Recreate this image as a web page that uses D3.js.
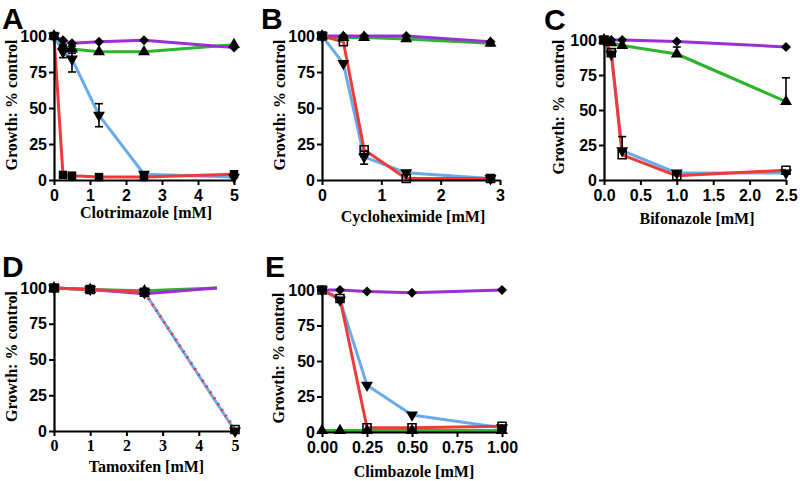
<!DOCTYPE html>
<html><head><meta charset="utf-8">
<script src="https://cdn.jsdelivr.net/npm/d3@7"></script>
<style>body{margin:0;background:#fff}</style>
</head><body><svg id="c" width="800" height="481"></svg>
<script>
// ---------------- DATA ----------------
const yTicks = [0, 25, 50, 75, 100];

// Panel A: Clotrimazole
const xA = [0, 0.25, 0.5, 1.25, 2.5, 5];
const A_purple = [100, 97, 95, 96, 97, 92];
const A_green  = [100, 93, 91, 89, 89, 94];
const A_blue   = [100, 89, 84, 45, 4, 2];
const A_red    = [100, 3.5, 3, 2, 2, 4];
const A_ticks  = [0, 1, 2, 3, 4, 5];
const A_err = [ {s: "blue", i: 1, lo: 85, hi: 94}, {s: "blue", i: 2, lo: 75, hi: 93}, {s: "blue", i: 3, lo: 37, hi: 53}, {s: "green", i: 2, lo: 88, hi: 95} ];

// Panel B: Cycloheximide
const xB = [0, 0.36, 0.71, 1.42, 2.84];
const B_purple = [100, 100, 100, 100, 96];
const B_green  = [100, 99, 99, 98, 95];
const B_blue   = [100, 81, 16, 5, 1];
const B_red    = [100, 96, 21, 1, 1];
const B_ticks  = [0, 1, 2, 3];
const B_err = [ {s: "blue", i: 2, lo: 11, hi: 20} ];

// Panel C: Bifonazole
const xC = [0, 0.1, 0.25, 1.0, 2.5];
const C_purple = [100, 100, 100, 99, 95];
const C_green  = [100, 98, 96, 90, 56];
const C_blue   = [100, 90, 21, 5, 5];
const C_red    = [100, 91, 18, 3, 7];
const C_ticks  = [0, 0.5, 1.0, 1.5, 2.0, 2.5];
const C_err = [ {s: "green", i: 3, lo: 90, hi: 95}, {s: "green", i: 4, lo: 56, hi: 73}, {s: "blue", i: 2, lo: 21, hi: 31} ];

// Panel D: Tamoxifen
const xD = [0, 1, 2.5, 5];
const xD_gp = [0, 1, 2.5, 4.5];
const D_purple = [100, 99, 96, 100];
const D_green  = [100, 99, 98, 100];
const D_blue   = [100, 99, 97, 0];
const D_red    = [100, 99, 97, 1];
const D_ticks  = [0, 1, 2, 3, 4, 5];
const D_err = [];

// Panel E: Climbazole
const xE = [0, 0.1, 0.25, 0.5, 1.0];
const E_purple = [100, 100, 99, 98, 100];
const E_green  = [1, 1, 1, 1, 1];
const E_blue   = [100, 93, 33, 12, 3];
const E_red    = [100, 94, 3, 3, 4];
const E_ticks  = [0, 0.25, 0.5, 0.75, 1.0];
const E_err = [];

// ---------------- STYLE / LAYOUT ----------------
const colors = {purple: "#9b2fd6", green: "#2bb52b", blue: "#6aaae8", red: "#ee3a3a"};
const sans = "Liberation Sans, Arial, sans-serif";
const serif = "Liberation Serif, Times New Roman, serif";

const panels = [
  {letter: "A", lx: 2, ly: 29, x0: 54, x1: 234, yb: 180, yt: 36, xmax: 5, ticks: A_ticks, fmt: d3.format("d"), tickFont: sans,
   title: "Clotrimazole [mM]", tby: 218, ytx: 12, ylab: "Growth: % control",
   series: [
     {c: "green", x: xA, y: A_green, m: "tri"}, {c: "purple", x: xA, y: A_purple, m: "dia"},
     {c: "blue", x: xA, y: A_blue, m: "tridown"}, {c: "red", x: xA, y: A_red, m: "sqfill"}], err: A_err},
  {letter: "B", lx: 261, ly: 29, x0: 322, x1: 500, yb: 180, yt: 36, xmax: 3, ticks: B_ticks, fmt: d3.format("d"), tickFont: sans,
   title: "Cycloheximide [mM]", tby: 222, ytx: 280, ylab: "Growth: % control",
   series: [
     {c: "green", x: xB, y: B_green, m: "tri"}, {c: "purple", x: xB, y: B_purple, m: "dia"},
     {c: "blue", x: xB, y: B_blue, m: "tridown"}, {c: "red", x: xB, y: B_red, m: "sq"}], err: B_err},
  {letter: "C", lx: 544, ly: 30, x0: 604, x1: 786, yb: 180, yt: 40, xmax: 2.5, ticks: C_ticks, fmt: d3.format(".1f"), tickFont: sans,
   title: "Bifonazole [mM]", tby: 224, ytx: 559, ylab: "Growth: %\u00a0 control",
   series: [
     {c: "green", x: xC, y: C_green, m: "tri"}, {c: "purple", x: xC, y: C_purple, m: "dia"},
     {c: "blue", x: xC, y: C_blue, m: "tridown"}, {c: "red", x: xC, y: C_red, m: "sq"}], err: C_err},
  {letter: "D", lx: 2, ly: 277, x0: 54, x1: 235, yb: 431, yt: 288, xmax: 5, ticks: D_ticks, fmt: d3.format("d"), tickFont: serif,
   title: "Tamoxifen [mM]", tby: 472, ytx: 12, ylab: "Growth: % control", dashRed: true,
   series: [
     {c: "green", x: xD_gp, y: D_green, m: "tri", hideLast: true}, {c: "purple", x: xD_gp, y: D_purple, m: "dia", hideLast: true},
     {c: "blue", x: xD, y: D_blue, m: "tridown"}, {c: "red", x: xD, y: D_red, m: "sq"}], err: D_err},
  {letter: "E", lx: 265, ly: 277, x0: 322, x1: 502, yb: 432, yt: 290, xmax: 1, ticks: E_ticks, fmt: d3.format(".2f"), tickFont: sans,
   title: "Climbazole [mM]", tby: 477, ytx: 279, ylab: "Growth: % control",
   series: [
     {c: "green", x: xE, y: E_green, m: "tri"}, {c: "purple", x: xE, y: E_purple, m: "dia"},
     {c: "blue", x: xE, y: E_blue, m: "tridown"}, {c: "red", x: xE, y: E_red, m: "sq"}], err: E_err}
];

const svg = d3.select("#c");

function marker(g, type, px, py) {
  if (type === "dia") {
    g.append("path").attr("d", d3.symbol(d3.symbolSquare, 50)()).attr("transform", `translate(${px},${py}) rotate(45)`).attr("fill", "#000");
  } else if (type === "tri") {
    g.append("path").attr("d", d3.symbol(d3.symbolTriangle, 62)()).attr("transform", `translate(${px},${py})`).attr("fill", "#000");
  } else if (type === "tridown") {
    g.append("path").attr("d", d3.symbol(d3.symbolTriangle, 62)()).attr("transform", `translate(${px},${py}) rotate(180)`).attr("fill", "#000");
  } else if (type === "sqfill") {
    g.append("path").attr("d", d3.symbol(d3.symbolSquare, 72)()).attr("transform", `translate(${px},${py})`).attr("fill", "#000");
  } else if (type === "sq") {
    g.append("path").attr("d", d3.symbol(d3.symbolSquare, 64)()).attr("transform", `translate(${px},${py})`)
      .attr("fill", "none").attr("stroke", "#000").attr("stroke-width", 1.6);
  }
}

panels.forEach(p => {
  const x = d3.scaleLinear().domain([0, p.xmax]).range([p.x0, p.x1]);
  const y = d3.scaleLinear().domain([0, 100]).range([p.yb, p.yt]);
  const g = svg.append("g");

  // panel letter
  g.append("text").attr("x", p.lx).attr("y", p.ly).text(p.letter)
    .attr("font-family", sans).attr("font-weight", "bold").attr("font-size", 30);

  // lines
  const line = d3.line().x(d => x(d[0])).y(d => y(d[1]));
  p.series.forEach(s => {
    const pts = s.x.map((v, i) => [v, s.y[i]]);
    if (p.dashRed && s.c === "red") {
      const k = pts.findIndex(d => d[0] >= 2.5);
      g.append("path").attr("d", line(pts.slice(0, k + 1))).attr("fill", "none")
        .attr("stroke", colors.red).attr("stroke-width", 3);
      g.append("path").attr("d", line(pts.slice(k))).attr("fill", "none")
        .attr("stroke", colors.red).attr("stroke-width", 3).attr("stroke-dasharray", "2 5");
    } else {
      g.append("path").attr("d", line(pts)).attr("fill", "none")
        .attr("stroke", colors[s.c]).attr("stroke-width", 3).attr("stroke-linejoin", "round");
    }
  });

  // axes
  const ya = d3.axisLeft(y).tickValues(yTicks).tickSize(5).tickSizeOuter(0).tickPadding(2).tickFormat(d3.format("d"));
  const yg = g.append("g").attr("transform", `translate(${p.x0},0)`).call(ya);
  const xa = d3.axisBottom(x).tickValues(p.ticks).tickSize(5).tickSizeOuter(0).tickPadding(p.tickFont === serif ? 4 : 5).tickFormat(p.fmt);
  const xg = g.append("g").attr("transform", `translate(0,${p.yb})`).call(xa);
  [yg, xg].forEach(a => {
    a.select(".domain").attr("stroke", "#000").attr("stroke-width", 2.2);
    a.selectAll(".tick line").attr("stroke", "#000").attr("stroke-width", 2);
  });
  yg.selectAll("text").attr("font-family", sans).attr("font-weight", "bold").attr("font-size", 16).attr("fill", "#000");
  xg.selectAll("text").attr("font-family", p.tickFont).attr("font-weight", "bold").attr("font-size", 16).attr("fill", "#000");

  // error bars
  p.err.forEach(e => {
    const s = p.series.find(q => q.c === e.s);
    const px = x(s.x[e.i]);
    g.append("line").attr("x1", px).attr("x2", px).attr("y1", y(e.lo)).attr("y2", y(e.hi)).attr("stroke", "#000").attr("stroke-width", 1.6);
    [e.lo, e.hi].forEach(v => {
      if (v !== s.y[e.i]) g.append("line").attr("x1", px - 4).attr("x2", px + 4).attr("y1", y(v)).attr("y2", y(v)).attr("stroke", "#000").attr("stroke-width", 1.6);
    });
  });

  // markers
  p.series.forEach(s => {
    s.x.forEach((v, i) => {
      if (s.hideLast && i === s.x.length - 1) return;
      marker(g, s.m, x(v), y(s.y[i]));
    });
  });

  // axis titles
  g.append("text").attr("x", (p.x0 + p.x1) / 2 + 2).attr("y", p.tby).attr("text-anchor", "middle").text(p.title)
    .attr("font-family", serif).attr("font-weight", "bold").attr("font-size", 16);
  g.append("text").attr("transform", `translate(${p.ytx + 5},${(p.yb + p.yt) / 2 - 3}) rotate(-90)`).attr("text-anchor", "middle").text(p.ylab)
    .attr("font-family", serif).attr("font-weight", "bold").attr("font-size", 16);
});
</script></body></html>
